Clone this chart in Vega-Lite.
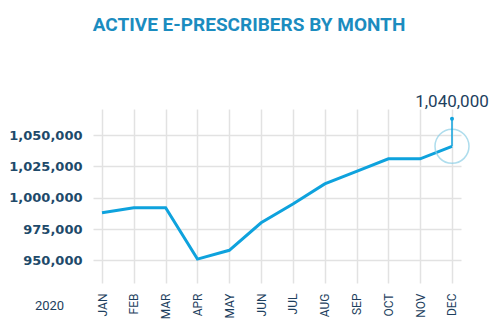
{
  "$schema": "https://vega.github.io/schema/vega-lite/v6.json",
  "width": 368,
  "height": 174,
  "autosize": "none",
  "padding": {"left": 93, "top": 109, "right": 36, "bottom": 40},
  "background": "white",
  "title": {
    "text": "ACTIVE E-PRESCRIBERS BY MONTH",
    "font": "Roboto",
    "fontWeight": "bold",
    "fontSize": 19,
    "color": "#1b8cbf",
    "anchor": "middle",
    "frame": "group",
    "offset": 0,
    "dx": -28,
    "dy": -43,
    "baseline": "alphabetic"
  },
  "datasets": {
    "monthly": [
      {"month": "JAN", "value": 988000},
      {"month": "FEB", "value": 992000},
      {"month": "MAR", "value": 992000},
      {"month": "APR", "value": 951000},
      {"month": "MAY", "value": 958000},
      {"month": "JUN", "value": 980000},
      {"month": "JUL", "value": 995000},
      {"month": "AUG", "value": 1011000},
      {"month": "SEP", "value": 1021000},
      {"month": "OCT", "value": 1031000},
      {"month": "NOV", "value": 1031000},
      {"month": "DEC", "value": 1041000}
    ],
    "callout": [
      {"month": "DEC", "value": 1041000, "label": "1,040,000"}
    ]
  },
  "encoding": {
    "x": {
      "field": "month",
      "type": "ordinal",
      "sort": null,
      "scale": {"type": "point", "padding": 0.283},
      "axis": {
        "title": "2020",
        "titleAngle": 0,
        "titleX": -44,
        "titleY": 26,
        "titleAlign": "center",
        "titleBaseline": "alphabetic",
        "titleFont": "Roboto",
        "titleFontSize": 13,
        "titleFontWeight": "normal",
        "titleColor": "#1e3f5e",
        "labelAngle": 270,
        "labelFont": "Roboto",
        "labelFontSize": 12,
        "labelColor": "#1e3f5e",
        "labelPadding": 10,
        "ticks": false,
        "domain": false,
        "grid": true,
        "gridColor": "#e2e2e2",
        "gridWidth": 1.5
      }
    },
    "y": {
      "field": "value",
      "type": "quantitative",
      "scale": {"domain": [931900, 1070800], "nice": false, "zero": false},
      "axis": {
        "title": null,
        "values": [950000, 975000, 1000000, 1025000, 1050000],
        "format": ",d",
        "labelFont": "DejaVu Sans",
        "labelFontWeight": "bold",
        "labelFontSize": 13,
        "labelColor": "#1e4a6a",
        "labelPadding": 11,
        "ticks": false,
        "domain": false,
        "grid": true,
        "gridColor": "#e2e2e2",
        "gridWidth": 1.5
      }
    }
  },
  "layer": [
    {
      "data": {"name": "monthly"},
      "mark": {"type": "line", "color": "#0ea2dd", "strokeWidth": 3}
    },
    {
      "data": {"name": "callout"},
      "mark": {"type": "point", "shape": "circle", "size": 1156, "filled": false, "stroke": "#8ccfe6", "strokeWidth": 1.5}
    },
    {
      "data": {"name": "callout"},
      "mark": {"type": "rule", "color": "#0ea2dd", "strokeWidth": 1.5},
      "encoding": {"y2": {"datum": 1063000}}
    },
    {
      "data": {"name": "callout"},
      "mark": {"type": "point", "shape": "circle", "size": 16, "filled": true, "color": "#0ea2dd", "opacity": 1},
      "encoding": {"y": {"datum": 1063000}}
    },
    {
      "data": {"name": "callout"},
      "mark": {"type": "text", "font": "Roboto", "fontSize": 17, "color": "#1e3f5e", "baseline": "alphabetic", "align": "center", "dy": -12},
      "encoding": {"y": {"datum": 1063000}, "text": {"field": "label"}}
    }
  ],
  "config": {"view": {"stroke": null}}
}
